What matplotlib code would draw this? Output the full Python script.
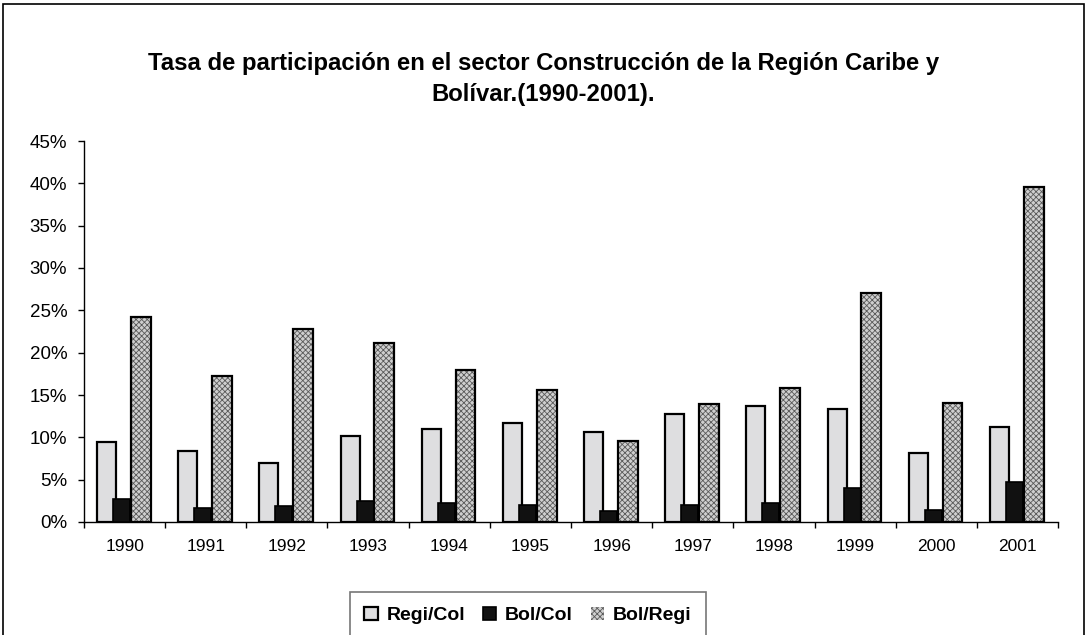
import matplotlib
matplotlib.use("Agg")
import matplotlib.pyplot as plt
from matplotlib.patches import Rectangle
from matplotlib.ticker import FuncFormatter, MultipleLocator
import numpy as np

plt.rcParams['font.family'] = ['Liberation Sans', 'DejaVu Sans']
plt.rcParams['hatch.linewidth'] = 0.6

years = ['1990', '1991', '1992', '1993', '1994', '1995', '1996', '1997', '1998', '1999', '2000', '2001']
regi_col = [9.4, 8.4, 7.0, 10.2, 11.0, 11.7, 10.6, 12.8, 13.7, 13.3, 8.1, 11.2]
bol_col = [2.7, 1.6, 1.9, 2.5, 2.3, 2.0, 1.3, 2.0, 2.3, 4.0, 1.4, 4.7]
bol_regi = [24.2, 17.2, 22.8, 21.2, 18.0, 15.6, 9.6, 13.9, 15.8, 27.1, 14.0, 39.6]
series_names = ['Regi/Col', 'Bol/Col', 'Bol/Regi']
title = "Tasa de participación en el sector Construcción de la Región Caribe y\nBolívar.(1990-2001)."

W, H = 1087, 635
fig = plt.figure(figsize=(W / 100, H / 100), dpi=100)
ax = fig.add_axes([84 / W, 1 - 522 / H, (1058 - 84) / W, (522 - 141) / H])

x = np.arange(len(years))
b1 = ax.bar(x - 0.222, regi_col, 0.235, color='#dedee0', edgecolor='black', linewidth=1.6,
            label=series_names[0], zorder=3)
b2 = ax.bar(x - 0.037, bol_col, 0.21, color='#111111', edgecolor='black', linewidth=1.2,
            label=series_names[1], zorder=4)
b3 = ax.bar(x + 0.20, bol_regi, 0.245, color='#cfcfcf', edgecolor='#5a5a5a', hatch='xxxxxx',
            linewidth=0, label=series_names[2], zorder=3)
ax.bar(x + 0.20, bol_regi, 0.245, color='none', edgecolor='black', linewidth=1.6, zorder=5)

ax.set_xlim(-0.5, len(years) - 0.5)
ax.set_ylim(0, 45)
ax.yaxis.set_major_locator(MultipleLocator(5))
ax.yaxis.set_major_formatter(FuncFormatter(lambda v, p: f"{int(round(v))}%"))
ax.set_xticks(x)
ax.set_xticklabels(years)
ax.set_xticks(np.arange(-0.5, len(years)), minor=True)
ax.tick_params(axis='x', which='major', length=0, labelsize=12.5, pad=12)
ax.tick_params(axis='x', which='minor', length=4, width=1, direction='out')
ax.tick_params(axis='y', length=4, width=1, direction='out', labelsize=13.5, pad=8)

for s in ['top', 'right']:
    ax.spines[s].set_visible(False)
ax.spines['left'].set_linewidth(1)
ax.spines['bottom'].set_linewidth(1)

fig.text(0.5, 1 - 79 / H, title, ha='center', va='center', fontsize=17.2, fontweight='bold',
         linespacing=1.4)

leg = fig.legend(handles=[b1, b2, b3], labels=series_names, loc='upper center',
                 bbox_to_anchor=(528 / W, 1 - 592 / H), ncol=3, frameon=True, fancybox=False,
                 prop={'weight': 'bold', 'size': 14}, handlelength=0.7, handleheight=0.7,
                 handletextpad=0.45, columnspacing=0.9, borderpad=0.75, borderaxespad=0)
leg.get_frame().set_edgecolor('#555555')
leg.get_frame().set_linewidth(1.2)

fig.patches.append(Rectangle((3 / W, -0.01), (1084 - 3) / W, 1.0 - 4 / H + 0.01,
                             transform=fig.transFigure, fill=False, edgecolor='black',
                             linewidth=1.2))

fig.savefig('out.png', dpi=100)
